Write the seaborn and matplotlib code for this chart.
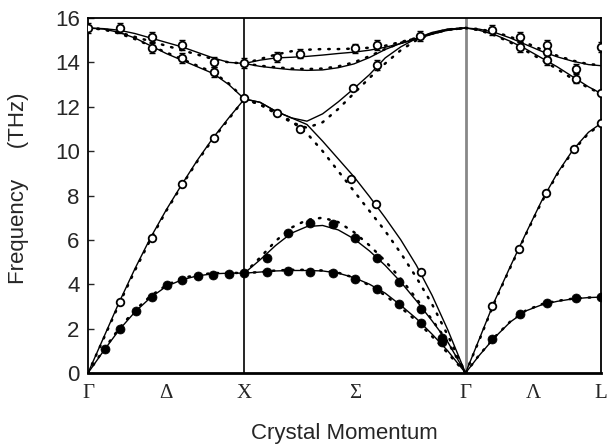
import numpy as np
import pandas as pd
import matplotlib
matplotlib.use("Agg")
import matplotlib.pyplot as plt
import seaborn as sns

# ---------------- data ----------------
# path coordinate: Gamma=0, X=1, Gamma=2.414, L=3.280
TICK_POS = [0.0, 0.5, 1.0, 1.707, 2.414, 2.847, 3.28]
TICK_LABELS = ["Γ", "Δ", "X", "Σ", "Γ", "Λ", "L"]

# Gamma -> X (theory)
GX_Q = [0.0, 0.1, 0.2, 0.3, 0.4, 0.5, 0.6, 0.7, 0.8, 0.9, 1.0]
GX_TA = [0, 1.0, 1.95, 2.75, 3.4, 3.9, 4.2, 4.38, 4.47, 4.5, 4.5]
GX_LA = [0, 1.6, 3.2, 4.7, 6.1, 7.35, 8.5, 9.6, 10.6, 11.5, 12.35]
GX_TO = [15.55, 15.52, 15.45, 15.3, 15.1, 14.9, 14.7, 14.45, 14.2, 14.0, 13.95]
GX_LO = [15.55, 15.5, 15.35, 15.1, 14.75, 14.4, 14.1, 13.8, 13.5, 13.0, 12.35]
GX_TA_D = [0, 1.05, 2.02, 2.83, 3.47, 3.95, 4.27, 4.43, 4.5, 4.52, 4.5]
GX_LA_D = [0, 1.55, 3.12, 4.62, 6.02, 7.3, 8.45, 9.55, 10.55, 11.45, 12.35]
GX_TO_D = [15.55, 15.5, 15.35, 15.15, 14.95, 14.75, 14.55, 14.35, 14.15, 14.0, 13.95]
GX_LO_D = [15.55, 15.48, 15.3, 15.05, 14.75, 14.45, 14.15, 13.85, 13.55, 13.05, 12.35]

# X -> Gamma along Sigma (theory)
SX_Q = [1.0, 1.1, 1.2, 1.3, 1.4, 1.5, 1.6, 1.7, 1.8, 1.9, 2.0, 2.1, 2.2, 2.3, 2.414]
SX_TA1 = [4.5, 4.55, 4.6, 4.62, 4.62, 4.6, 4.5, 4.3, 4.0, 3.6, 3.05, 2.45, 1.75, 1.0, 0]
SX_TA2 = [4.5, 5.1, 5.75, 6.3, 6.6, 6.65, 6.45, 6.05, 5.5, 4.85, 4.1, 3.25, 2.35, 1.4, 0]
SX_LA = [12.35, 12.2, 11.8, 11.5, 11.2, 10.45, 9.65, 8.85, 7.95, 7.0, 6.0, 4.85, 3.5, 1.95, 0]
SX_LO = [12.35, 12.2, 11.8, 11.5, 11.35, 11.68, 12.22, 12.82, 13.45, 14.2, 14.7, 15.08, 15.35, 15.5, 15.55]
SX_TO1 = [13.95, 14.1, 14.2, 14.23, 14.27, 14.33, 14.4, 14.46, 14.55, 14.68, 14.85, 15.05, 15.27, 15.45, 15.55]
SX_TO2 = [13.95, 13.82, 13.74, 13.67, 13.64, 13.66, 13.76, 13.93, 14.22, 14.58, 14.86, 15.08, 15.3, 15.47, 15.55]
SX_TA1_D = [4.5, 4.55, 4.62, 4.65, 4.65, 4.62, 4.52, 4.3, 3.95, 3.5, 2.95, 2.35, 1.65, 0.9, 0]
SX_TA2_D = [4.5, 5.2, 5.95, 6.55, 6.9, 7.0, 6.8, 6.35, 5.75, 5.05, 4.25, 3.35, 2.4, 1.4, 0]
SX_LA_D = [12.35, 12.1, 11.75, 11.35, 10.8, 10.0, 9.1, 8.2, 7.3, 6.4, 5.4, 4.3, 3.1, 1.7, 0]
SX_LO_D = [12.35, 12.1, 11.7, 11.3, 11.05, 11.3, 11.9, 12.6, 13.3, 13.95, 14.55, 15.0, 15.3, 15.48, 15.55]
SX_TO1_D = [13.95, 14.15, 14.35, 14.5, 14.57, 14.6, 14.6, 14.62, 14.66, 14.75, 14.92, 15.1, 15.3, 15.47, 15.55]
SX_TO2_D = [13.95, 13.85, 13.78, 13.72, 13.7, 13.72, 13.82, 14.0, 14.28, 14.6, 14.88, 15.1, 15.3, 15.47, 15.55]

# Gamma -> L (theory)
GL_Q = [2.414, 2.5, 2.6, 2.7, 2.8, 2.9, 3.0, 3.1, 3.2, 3.28]
GL_TA = [0, 0.78, 1.6, 2.3, 2.8, 3.07, 3.23, 3.34, 3.4, 3.42]
GL_LA = [0, 1.5, 3.25, 4.8, 6.3, 7.75, 9.0, 10.05, 10.85, 11.25]
GL_TO = [15.55, 15.5, 15.35, 15.1, 14.8, 14.5, 14.25, 14.05, 13.9, 13.85]
GL_LO = [15.55, 15.45, 15.25, 14.95, 14.6, 14.2, 13.8, 13.35, 12.9, 12.6]
GL_TA_D = [0, 0.8, 1.62, 2.32, 2.82, 3.1, 3.25, 3.35, 3.4, 3.42]
GL_LA_D = [0, 1.45, 3.2, 4.75, 6.25, 7.7, 8.95, 10.0, 10.8, 11.2]
GL_TO_D = [15.55, 15.5, 15.37, 15.15, 14.88, 14.58, 14.3, 14.08, 13.92, 13.88]
GL_LO_D = [15.55, 15.45, 15.22, 14.9, 14.52, 14.12, 13.7, 13.25, 12.85, 12.6]

# measured points: filled circles (transverse acoustic)
FILLED_Q = [0.109, 0.205, 0.307, 0.41, 0.506, 0.602, 0.704, 0.8, 0.903, 1.0,
            1.146, 1.28, 1.421, 1.569, 1.709, 1.85, 1.991, 2.132, 2.266,
            1.146, 1.28, 1.421, 1.569, 1.709, 1.85, 1.991, 2.132, 2.266,
            2.585, 2.761, 2.937, 3.118, 3.28]
FILLED_F = [1.08, 1.98, 2.8, 3.42, 3.96, 4.19, 4.37, 4.41, 4.46, 4.5,
            4.55, 4.6, 4.55, 4.5, 4.23, 3.78, 3.1, 2.25, 1.4,
            5.18, 6.3, 6.76, 6.7, 6.08, 5.18, 4.1, 2.9, 1.58,
            1.52, 2.66, 3.14, 3.36, 3.41]

# measured points: open circles (longitudinal acoustic and optical)
OPEN_Q = [0.205, 0.41, 0.602, 0.807, 1.0,
          0.0, 0.205, 0.41, 0.41, 0.602, 0.602, 0.807, 0.807, 1.0,
          1.208, 1.357, 1.709, 1.85, 1.85, 2.125, 1.697, 1.208, 1.357, 1.68, 1.84, 2.13,
          2.585, 2.753, 2.926, 3.105, 3.28,
          2.585, 2.761, 2.761, 2.937, 2.937, 2.937, 3.118, 3.118, 3.28, 3.28]
OPEN_F = [3.2, 6.1, 8.5, 10.6, 12.4,
          15.55, 15.55, 15.14, 14.64, 14.77, 14.19, 14.0, 13.56, 13.96,
          14.23, 14.4, 14.63, 14.77, 13.87, 15.2, 12.85, 11.7, 11.0, 8.75, 7.6, 4.55,
          3.02, 5.58, 8.1, 10.1, 11.25,
          15.45, 15.15, 14.7, 14.8, 14.45, 14.1, 13.72, 13.27, 14.7, 12.6]

# ---------------- build tables ----------------
def branches(q, named):
    rows = []
    for name, vals in named.items():
        for qq, ff in zip(q, vals):
            rows.append((name, qq, ff))
    return rows

solid_rows = []
solid_rows += branches(GX_Q, {"gx_ta": GX_TA, "gx_la": GX_LA, "gx_to": GX_TO, "gx_lo": GX_LO})
solid_rows += branches(SX_Q, {"sx_ta1": SX_TA1, "sx_ta2": SX_TA2, "sx_la": SX_LA,
                              "sx_lo": SX_LO, "sx_to1": SX_TO1, "sx_to2": SX_TO2})
solid_rows += branches(GL_Q, {"gl_ta": GL_TA, "gl_la": GL_LA, "gl_to": GL_TO, "gl_lo": GL_LO})
solid = pd.DataFrame(solid_rows, columns=["branch", "q", "f"])

dot_rows = []
dot_rows += branches(GX_Q, {"gx_ta": GX_TA_D, "gx_la": GX_LA_D, "gx_to": GX_TO_D, "gx_lo": GX_LO_D})
dot_rows += branches(SX_Q, {"sx_ta1": SX_TA1_D, "sx_ta2": SX_TA2_D, "sx_la": SX_LA_D,
                            "sx_lo": SX_LO_D, "sx_to1": SX_TO1_D, "sx_to2": SX_TO2_D})
dot_rows += branches(GL_Q, {"gl_ta": GL_TA_D, "gl_la": GL_LA_D, "gl_to": GL_TO_D, "gl_lo": GL_LO_D})
dotted = pd.DataFrame(dot_rows, columns=["branch", "q", "f"])

filled = pd.DataFrame({"q": FILLED_Q, "f": FILLED_F})
opened = pd.DataFrame({"q": OPEN_Q, "f": OPEN_F})

# ---------------- plot ----------------
sns.set_style("white")
plt.rcParams["font.family"] = ["Liberation Sans", "DejaVu Sans"]

fig = plt.figure(figsize=(6.13, 4.46), dpi=100)
ax = fig.add_axes([88 / 613, 1 - 373 / 446, (601 - 88) / 613, (373 - 18) / 446])

sns.lineplot(data=dotted, x="q", y="f", units="branch", estimator=None, sort=False,
             color="black", lw=1.8, linestyle=(0, (0.6, 3.2)), dash_capstyle="round",
             ax=ax, legend=False)
sns.lineplot(data=solid, x="q", y="f", units="branch", estimator=None, sort=False,
             color="black", lw=1.0, ax=ax, legend=False)

# small error bars on optical data
opt = opened[opened["f"] > 13.0]
ax.errorbar(opt["q"], opt["f"], yerr=0.22, fmt="none", ecolor="black",
            elinewidth=1.0, capsize=2.5, capthick=1.0, zorder=3)

sns.scatterplot(data=opened, x="q", y="f", marker="o", s=30, facecolor="white",
                edgecolor="black", linewidth=1.3, ax=ax, zorder=4, legend=False)
sns.scatterplot(data=filled, x="q", y="f", marker="o", s=42, color="black",
                edgecolor="black", linewidth=0.5, ax=ax, zorder=4, legend=False)

ax.axvline(1.0, color="black", lw=1.2, zorder=1)
ax.axvline(2.414, color="#888888", lw=2.0, zorder=1)

ax.set_xlim(0, 3.28)
ax.set_ylim(0, 16)
ax.set_yticks(np.arange(0, 17, 2))
ax.set_xticks(TICK_POS)
ax.set_xticklabels(TICK_LABELS, family=["Liberation Serif", "DejaVu Serif"], fontsize=15)
ax.tick_params(axis="x", length=0, pad=8)
ax.tick_params(axis="y", direction="in", length=4, width=1, labelsize=16, pad=6, left=True)
for s in ax.spines.values():
    s.set_color("black")
    s.set_linewidth(1.3)
ax.spines["bottom"].set_linewidth(2.0)

ax.set_xlabel("Crystal Momentum", fontsize=16, labelpad=14)
ax.set_ylabel("Frequency     (THz)", fontsize=16)
ax.yaxis.set_label_coords(-0.115, 0.52)
ax.grid(False)

fig.savefig("out.png", dpi=100)
